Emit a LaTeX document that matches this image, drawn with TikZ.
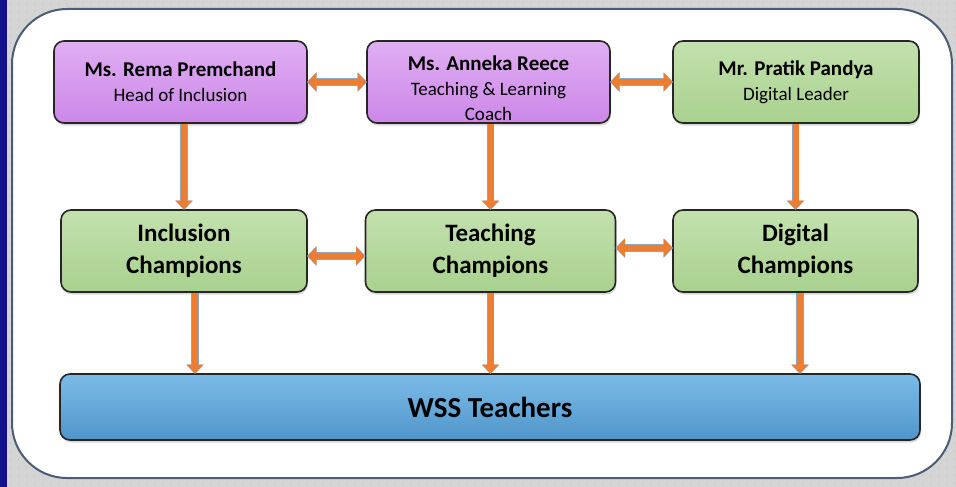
\documentclass[tikz,border=0pt]{standalone}
\usepackage{fontspec}
\setmainfont{Carlito}
\usetikzlibrary{arrows.meta, shadows, patterns}
\definecolor{bggrey}{HTML}{D4D4D4}
\definecolor{bgdot}{HTML}{BCBCBC}
\definecolor{sidebar}{HTML}{12128E}
\definecolor{framec}{HTML}{4B5C75}
\definecolor{lilac}{HTML}{CC88E8}
\definecolor{lilactop}{HTML}{E0AEF2}
\definecolor{leaf}{HTML}{A9D18E}
\definecolor{leaftop}{HTML}{C3E1AE}
\definecolor{sky}{HTML}{5096CA}
\definecolor{skytop}{HTML}{7CBBE8}
\definecolor{arrowor}{HTML}{ED7D31}
\definecolor{arrowedge}{HTML}{8CA6C6}

\pgfdeclarepatternformonly{bgdots}{\pgfpointorigin}{\pgfpoint{8pt}{8pt}}{\pgfpoint{8pt}{8pt}}{%
  \pgfpathcircle{\pgfpoint{4pt}{4pt}}{0.6pt}\pgfusepath{fill}}

\tikzset{
  box/.style      = {shape=rectangle, rounded corners=10pt,
                     draw=black!85, line width=1.6pt, align=center, inner sep=0pt,
                     drop shadow={shadow xshift=1pt, shadow yshift=-2.5pt, opacity=0.3}},
  lilacfill/.style = {top color=lilactop, middle color=lilac, bottom color=lilac},
  leaffill/.style  = {top color=leaftop, middle color=leaf, bottom color=leaf},
  person/.style   = {box, minimum height=82pt, font=\fontsize{19}{25}\selectfont},
  champ/.style    = {box, leaffill, minimum height=82pt, font=\bfseries\fontsize{25}{32}\selectfont},
  teachers/.style = {box, top color=skytop, middle color=sky, bottom color=sky,
                     minimum width=860pt, minimum height=66pt,
                     font=\bfseries\fontsize{29}{34}\selectfont},
  link/.style     = {draw=arrowor, line width=6pt,
                     -{Triangle[width=16pt,length=8.5pt,line width=0pt]},
                     preaction={draw=arrowedge, line width=7.6pt, shorten >=-0.8pt,
                       -{Triangle[width=18pt,length=9.5pt,line width=0pt]}}},
  twoway/.style   = {draw=arrowor, line width=6pt,
                     {Triangle[width=18pt,length=8.5pt,line width=0pt]}-{Triangle[width=18pt,length=8.5pt,line width=0pt]},
                     preaction={draw=arrowedge, line width=7.6pt, shorten >=-0.8pt, shorten <=-0.8pt,
                       {Triangle[width=20pt,length=9.5pt,line width=0pt]}-{Triangle[width=20pt,length=9.5pt,line width=0pt]}}}
}

\begin{document}
\begin{tikzpicture}[x=1pt, y=-1pt]

% backdrop and frame
\fill[bggrey] (0,0) rectangle (956,487);
\fill[pattern=bgdots, pattern color=bgdot] (0,0) rectangle (956,487);
\fill[sidebar] (0,0) rectangle (7,487);
\draw[framec, fill=white, line width=2pt, rounded corners=55pt] (12,9) rectangle (952,478);

% leaders
\node[person, lilacfill, minimum width=253pt] (rema) at (180.5,82)
  {{\bfseries\fontsize{21}{25}\selectfont Ms. Rema Premchand}\\Head of Inclusion};
\node[person, lilacfill, minimum width=243pt] (anneka) at (488.5,82)
  {{\bfseries\fontsize{21}{25}\selectfont\rule{0pt}{28pt}Ms. Anneka Reece}\\Teaching \& Learning\\Coach};
\node[person, leaffill, minimum width=246pt] (pratik) at (796,82)
  {{\bfseries\fontsize{21}{25}\selectfont Mr. Pratik Pandya}\\Digital Leader};

% champions
\node[champ, minimum width=246pt] (inc) at (184,251) {Inclusion\\Champions};
\node[champ, minimum width=250pt] (teach) at (490.5,251) {Teaching\\Champions};
\node[champ, minimum width=245pt] (dig) at (795.5,251) {Digital\\Champions};

% everyone
\node[teachers] (wss) at (490,407) {WSS Teachers};

% arrows
\draw[link] (rema.south -| inc) -- (inc);
\draw[link] (anneka.south -| teach) -- (teach);
\draw[link] (pratik.south -| dig) -- (dig);
\draw[link] ([xshift=11pt]inc.south) -- ([xshift=11pt]inc.south |- wss.north);
\draw[link] (teach.south) -- (teach.south |- wss.north);
\draw[link] ([xshift=4.5pt]dig.south) -- ([xshift=4.5pt]dig.south |- wss.north);

\draw[twoway] (rema) -- (anneka);
\draw[twoway] (anneka) -- (pratik);
\draw[twoway] ([yshift=-5pt]inc.east) -- ([yshift=-5pt]inc.east -| teach.west);
\draw[twoway] ([yshift=3pt]teach.east) -- ([yshift=3pt]teach.east -| dig.west);

\end{tikzpicture}
\end{document}
